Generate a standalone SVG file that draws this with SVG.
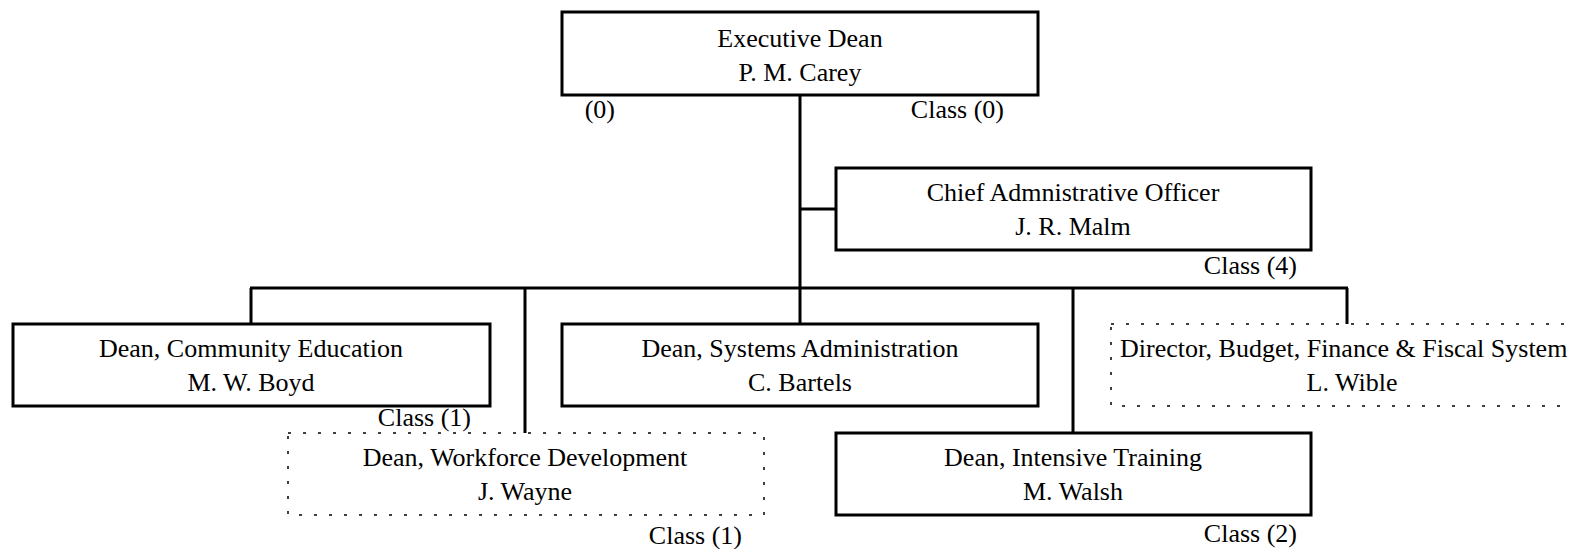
<svg xmlns="http://www.w3.org/2000/svg" width="1572" height="549" viewBox="0 0 1572 549">
<style>
.box{fill:#fff;stroke:#000;stroke-width:3}
.dbox{fill:#fff;stroke:#000;stroke-width:1.5;stroke-dasharray:3 12}
.t{font-family:"Liberation Serif","Times New Roman",serif;font-size:26px;fill:#000;text-anchor:middle}
.l{font-family:"Liberation Serif","Times New Roman",serif;font-size:26px;fill:#000;text-anchor:end}
.c{stroke:#000;stroke-width:3;fill:none}
</style>
<rect width="1572" height="549" fill="#fff"/>
<g id="connectors">
<line class="c" x1="800" y1="95" x2="800" y2="288"/>
<line class="c" x1="800" y1="209" x2="836" y2="209"/>
<line class="c" x1="250" y1="288" x2="1348" y2="288"/>
<line class="c" x1="251" y1="288" x2="251" y2="324"/>
<line class="c" x1="525" y1="288" x2="525" y2="433"/>
<line class="c" x1="800" y1="288" x2="800" y2="324"/>
<line class="c" x1="1073" y1="288" x2="1073" y2="433"/>
<line class="c" x1="1347" y1="288" x2="1347" y2="324"/>
</g>
<g id="exec">
<rect class="box" x="562" y="12" width="476" height="83"/>
<text class="t" x="800" y="47">Executive Dean</text>
<text class="t" x="800" y="81">P. M. Carey</text>
<text class="l" x="615" y="118">(0)</text>
<text class="l" x="1004" y="118">Class (0)</text>
</g>
<g id="cao">
<rect class="box" x="836" y="168" width="475" height="82"/>
<text class="t" x="1073" y="201">Chief Admnistrative Officer</text>
<text class="t" x="1073" y="235">J. R. Malm</text>
<text class="l" x="1297" y="274">Class (4)</text>
</g>
<g id="community">
<rect class="box" x="13" y="324" width="477" height="82"/>
<text class="t" x="251" y="357">Dean, Community Education</text>
<text class="t" x="251" y="391">M. W. Boyd</text>
<text class="l" x="471" y="426">Class (1)</text>
</g>
<g id="systems">
<rect class="box" x="562" y="324" width="476" height="82"/>
<text class="t" x="800" y="357">Dean, Systems Administration</text>
<text class="t" x="800" y="391">C. Bartels</text>
</g>
<g id="director">
<rect class="dbox" x="1111" y="324" width="476" height="82"/>
<text class="t" x="1120" y="357" style="text-anchor:start">Director, Budget, Finance &amp; Fiscal System</text>
<text class="t" x="1352" y="391">L. Wible</text>
</g>
<g id="workforce">
<rect class="dbox" x="288" y="433" width="476" height="82"/>
<text class="t" x="525" y="466">Dean, Workforce Development</text>
<text class="t" x="525" y="500">J. Wayne</text>
<text class="l" x="742" y="544">Class (1)</text>
</g>
<g id="intensive">
<rect class="box" x="836" y="433" width="475" height="82"/>
<text class="t" x="1073" y="466">Dean, Intensive Training</text>
<text class="t" x="1073" y="500">M. Walsh</text>
<text class="l" x="1297" y="542">Class (2)</text>
</g>
</svg>
